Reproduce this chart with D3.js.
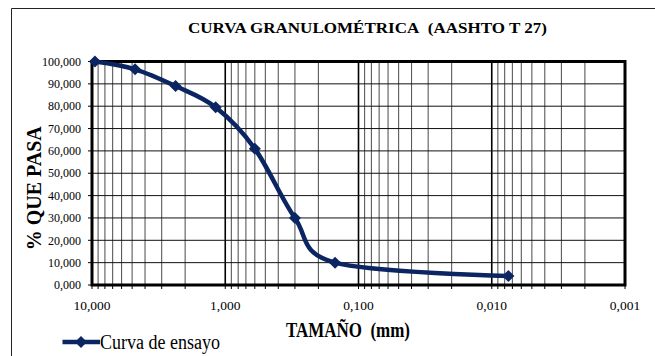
<!DOCTYPE html>
<html>
<head>
<meta charset="utf-8">
<script src="https://cdn.jsdelivr.net/npm/d3@7"></script>
<style>
body{margin:0;background:#fff;}
</style>
</head>
<body>
<div id="chart"></div>
<script>
// sieve sizes (mm) and % passing
let sizes=[9.5,4.75,2.36,1.18,0.6,0.3,0.15,0.0075];
let passing=[100,96.5,89,79.5,61,30,10,4];
let xTickValues=[10,1,0.1,0.01,0.001];
let yTickValues=[0,10,20,30,40,50,60,70,80,90,100];

let title="CURVA GRANULOMÉTRICA\u00a0\u00a0(AASHTO T 27)";
let xTitle="TAMAÑO\u00a0\u00a0(mm)";
let yTitle="% QUE PASA";
let seriesName="Curva de ensayo";

let width=655;
let height=356;
let lineColor="#0b2462";

let svg=d3.select("#chart").append("svg").attr("width",width).attr("height",height)
	.attr("font-family","Liberation Serif, Times New Roman, serif");

// outer chart frame (only left and top visible)
svg.append("line").attr("x1",11.5).attr("y1",8.5).attr("x2",655).attr("y2",8.5).attr("stroke","#222").attr("stroke-width",1);
svg.append("line").attr("x1",11.5).attr("y1",8.5).attr("x2",11.5).attr("y2",356).attr("stroke","#222").attr("stroke-width",1);

var x=d3.scaleLog().domain([10,0.001]).range([92,625]);
var y=d3.scaleLinear().domain([0,100]).range([285,61.5]);

let grid=svg.append("g");
let isMajor=d=>Math.abs(Math.log10(d)-Math.round(Math.log10(d)))<1e-6;

// vertical log grid
let xGrid=x.ticks();
grid.selectAll(".vgrid")
	.data(xGrid)
	.join("line")
	.attr("class","vgrid")
	.attr("x1",d=>x(d)).attr("x2",d=>x(d))
	.attr("y1",y(0)).attr("y2",y(100))
	.attr("stroke",d=>isMajor(d)?"#000":"#5a5a5a")
	.attr("stroke-width",d=>isMajor(d)?1.6:1.1);

// horizontal grid
grid.selectAll(".hgrid")
	.data(yTickValues)
	.join("line")
	.attr("class","hgrid")
	.attr("x1",x(10)).attr("x2",x(0.001))
	.attr("y1",d=>y(d)).attr("y2",d=>y(d))
	.attr("stroke","#111").attr("stroke-width",1);

// small ticks outside
grid.selectAll(".ytick")
	.data(yTickValues)
	.join("line")
	.attr("x1",x(10)-4).attr("x2",x(10))
	.attr("y1",d=>y(d)).attr("y2",d=>y(d))
	.attr("stroke","#000").attr("stroke-width",1);
grid.selectAll(".xtick")
	.data(xGrid)
	.join("line")
	.attr("x1",d=>x(d)).attr("x2",d=>x(d))
	.attr("y1",y(0)).attr("y2",y(0)+4)
	.attr("stroke","#000").attr("stroke-width",1);

// plot frame
svg.append("rect")
	.attr("x",x(10)).attr("y",y(100))
	.attr("width",x(0.001)-x(10)).attr("height",y(0)-y(100))
	.attr("fill","none").attr("stroke","#000").attr("stroke-width",3);

let fmt=d=>d.toFixed(3).replace(".",",");

// y tick labels
svg.selectAll(".ylab")
	.data(yTickValues)
	.join("text")
	.attr("class","lbl")
	.attr("x",81).attr("y",d=>y(d))
	.attr("dy","0.35em")
	.attr("text-anchor","end")
	.attr("font-size",12)
	.text(fmt);

// x tick labels
svg.selectAll(".xlab")
	.data(xTickValues)
	.join("text")
	.attr("class","lbl")
	.attr("x",d=>x(d)).attr("y",310)
	.attr("text-anchor","middle")
	.attr("font-size",13.5)
	.text(fmt);

// titles
svg.append("text").attr("class","lbl").attr("x",188).attr("y",33).attr("textLength",359).attr("lengthAdjust","spacingAndGlyphs")
	.attr("font-size",15.5).attr("font-weight","bold").text(title);

svg.append("text").attr("class","lbl").attr("x",286).attr("y",337).attr("textLength",124).attr("lengthAdjust","spacingAndGlyphs")
	.attr("font-size",20).attr("font-weight","bold").text(xTitle);

svg.append("text").attr("class","lbl")
	.attr("transform","translate(41,"+((y(0)+y(100))/2+15)+") rotate(-90)")
	.attr("text-anchor","middle")
	.attr("font-size",20).attr("font-weight","bold")
	.text(yTitle);

// series
let pts=sizes.map((s,i)=>({size:s,pct:passing[i]}));

let line=d3.line()
	.x(d=>x(d.size))
	.y(d=>y(d.pct))
	.curve(d3.curveCatmullRom.alpha(0));

svg.append("path")
	.datum(pts)
	.attr("d",line)
	.attr("fill","none")
	.attr("stroke",lineColor)
	.attr("stroke-width",4.5)
	.attr("stroke-linejoin","round");

let diamond=d3.symbol().type(d3.symbolSquare).size(72);

svg.selectAll(".marker")
	.data(pts)
	.join("path")
	.attr("class","marker")
	.attr("d",diamond)
	.attr("transform",d=>"translate("+x(d.size)+","+y(d.pct)+") rotate(45)")
	.attr("fill",lineColor);

// legend
svg.append("line").attr("x1",62.5).attr("x2",100).attr("y1",342).attr("y2",342)
	.attr("stroke",lineColor).attr("stroke-width",4.5);
svg.append("path").attr("d",diamond).attr("transform","translate(81,342) rotate(45)").attr("fill",lineColor);
svg.append("text").attr("class","lbl").attr("x",100).attr("y",349).attr("textLength",120).attr("lengthAdjust","spacingAndGlyphs")
	.attr("font-size",20).text(seriesName);

d3.selectAll(".lbl").attr("fill","#000");
</script>
</body>
</html>
